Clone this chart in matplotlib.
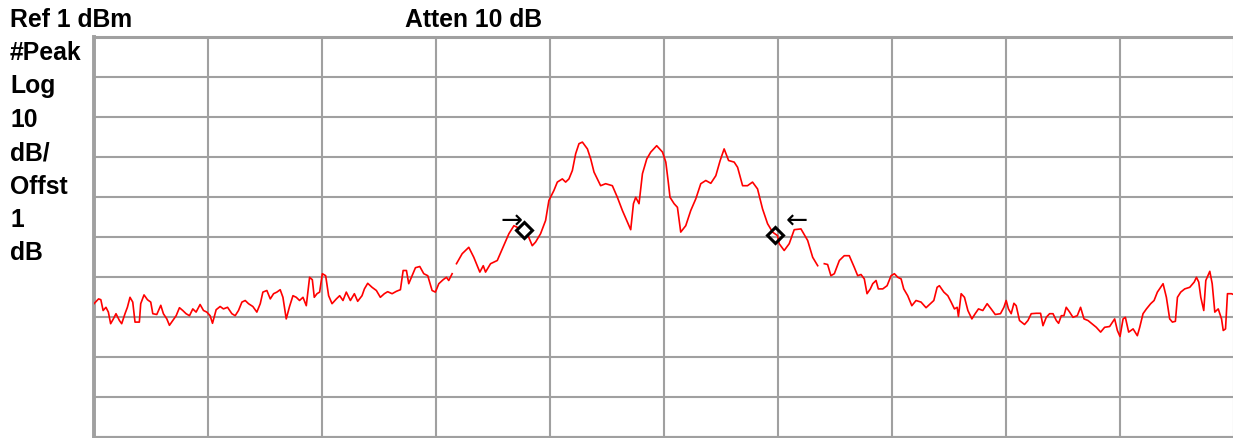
import matplotlib
matplotlib.use("Agg")
import matplotlib.pyplot as plt
import numpy as np

# trace: x in horizontal divisions (0..10), level in dBm
freq_div = [
    0.00, 0.04, 0.06, 0.08, 0.105, 0.126, 0.146, 0.170, 0.193, 0.223,
    0.243, 0.272, 0.293, 0.316, 0.340, 0.360, 0.398, 0.410, 0.439, 0.469,
    0.498, 0.516, 0.551, 0.586, 0.609, 0.639, 0.662, 0.691, 0.721, 0.750,
    0.779, 0.808, 0.838, 0.867, 0.896, 0.931, 0.961, 0.990, 1.019, 1.040,
    1.072, 1.107, 1.136, 1.172, 1.210, 1.239, 1.268, 1.298, 1.327, 1.356,
    1.394, 1.429, 1.459, 1.482, 1.517, 1.547, 1.576, 1.605, 1.634, 1.658,
    1.687, 1.716, 1.746, 1.775, 1.804, 1.834, 1.863, 1.892, 1.916, 1.933,
    1.957, 1.980, 2.004, 2.033, 2.059, 2.089, 2.127, 2.156, 2.185, 2.214,
    2.250, 2.285, 2.314, 2.352, 2.373, 2.402, 2.440, 2.478, 2.513, 2.548,
    2.577, 2.616, 2.654, 2.689, 2.713, 2.742, 2.762, 2.786, 2.821, 2.859,
    2.894, 2.929, 2.967, 2.996, 3.026, 3.064, 3.093, 3.113, 3.143, 3.160,
    3.181, 3.231, 3.289, 3.333, 3.386, 3.416, 3.436, 3.480, 3.539, 3.583,
    3.641, 3.685, 3.772, 3.802, 3.846, 3.875, 3.919, 3.963, 3.992, 4.036,
    4.066, 4.110, 4.139, 4.168, 4.198, 4.227, 4.256, 4.286, 4.330, 4.359,
    4.388, 4.446, 4.490, 4.549, 4.593, 4.637, 4.681, 4.710, 4.734, 4.754,
    4.769, 4.783, 4.813, 4.851, 4.886, 4.938, 4.989, 5.018, 5.038, 5.055,
    5.091, 5.120, 5.149, 5.193, 5.237, 5.281, 5.325, 5.369, 5.413, 5.457,
    5.495, 5.530, 5.569, 5.618, 5.648, 5.692, 5.735, 5.779, 5.823, 5.867,
    5.911, 5.955, 5.999, 6.013, 6.057, 6.101, 6.145, 6.204, 6.263, 6.307,
    6.351, 6.370, 6.409, 6.438, 6.467, 6.497, 6.541, 6.584, 6.628, 6.672,
    6.702, 6.731, 6.760, 6.784, 6.813, 6.834, 6.863, 6.883, 6.922, 6.960,
    6.995, 7.024, 7.054, 7.083, 7.106, 7.141, 7.177, 7.214, 7.258, 7.302,
    7.340, 7.370, 7.399, 7.419, 7.458, 7.493, 7.522, 7.551, 7.575, 7.586,
    7.610, 7.639, 7.669, 7.704, 7.733, 7.762, 7.800, 7.838, 7.873, 7.909,
    7.955, 7.985, 8.005, 8.025, 8.049, 8.073, 8.093, 8.122, 8.166, 8.196,
    8.225, 8.269, 8.307, 8.328, 8.357, 8.386, 8.416, 8.445, 8.465, 8.489,
    8.512, 8.532, 8.562, 8.591, 8.629, 8.658, 8.688, 8.723, 8.758, 8.796,
    8.834, 8.869, 8.913, 8.957, 8.981, 9.004, 9.031, 9.051, 9.080, 9.119,
    9.156, 9.177, 9.206, 9.236, 9.273, 9.303, 9.332, 9.382, 9.411, 9.440,
    9.464, 9.490, 9.508, 9.537, 9.572, 9.616, 9.655, 9.675, 9.695, 9.713,
    9.739, 9.757, 9.792, 9.813, 9.836, 9.866, 9.895, 9.910, 9.930, 9.947,
    9.982, 10.00,
]
level_dbm = [
    -65.8, -64.6, -64.8, -67.5, -66.7, -67.9, -70.8, -69.6, -68.3, -70.0,
    -70.8, -68.3, -66.7, -64.2, -65.4, -70.4, -70.4, -65.8, -63.6, -64.8,
    -65.4, -68.3, -68.5, -66.2, -68.3, -69.6, -71.2, -70.0, -68.8, -66.8,
    -67.5, -68.3, -68.8, -67.1, -67.9, -66.0, -67.5, -67.9, -68.8, -70.7,
    -67.3, -66.5, -67.1, -66.7, -68.3, -68.8, -67.5, -65.4, -65.0, -65.8,
    -66.5, -67.9, -65.8, -62.9, -62.5, -64.6, -63.3, -62.9, -62.3, -64.2,
    -69.6, -66.5, -63.8, -64.2, -65.0, -64.2, -66.3, -59.2, -59.8, -64.2,
    -63.3, -62.9, -58.3, -58.8, -63.8, -65.8, -64.6, -63.8, -65.0, -62.9,
    -65.0, -63.3, -65.2, -63.8, -62.1, -60.7, -61.7, -62.5, -64.2, -63.3,
    -62.8, -63.3, -62.7, -62.3, -57.5, -57.5, -60.8, -59.2, -56.8, -56.5,
    -58.3, -58.8, -62.5, -62.9, -60.8, -59.8, -59.2, -60.0, -58.3, np.nan,
    -55.8, -53.3, -51.7, -54.2, -57.9, -56.3, -57.9, -55.8, -55.0, -52.1,
    -48.3, -46.3, -47.5, -48.3, -51.3, -50.4, -48.3, -45.0, -40.0, -37.5,
    -35.4, -34.6, -35.4, -34.6, -32.5, -28.3, -25.8, -25.4, -27.1, -29.6,
    -32.9, -36.3, -35.8, -36.3, -39.2, -42.5, -45.4, -47.3, -40.8, -39.2,
    -40.0, -40.8, -33.3, -29.6, -27.9, -26.3, -27.9, -30.4, -35.0, -39.2,
    -40.8, -41.7, -47.9, -46.3, -42.5, -39.6, -35.8, -35.0, -35.7, -33.8,
    -30.0, -27.1, -30.0, -30.4, -31.7, -36.3, -36.3, -35.4, -37.1, -42.1,
    -45.8, -47.9, -48.8, -50.8, -52.5, -50.8, -47.3, -47.1, -50.0, -54.2,
    -56.3, np.nan, -55.8, -56.0, -58.8, -58.3, -55.0, -53.8, -53.8, -56.7,
    -58.8, -58.5, -59.6, -63.3, -62.1, -60.8, -60.0, -62.1, -62.1, -61.3,
    -58.8, -58.3, -59.2, -59.6, -62.1, -63.8, -66.3, -65.0, -65.4, -66.8,
    -65.8, -65.0, -61.7, -61.3, -62.9, -63.8, -65.4, -67.1, -66.7, -69.0,
    -63.3, -64.2, -67.5, -69.6, -68.3, -67.1, -67.5, -65.8, -67.1, -68.5,
    -68.3, -66.7, -65.0, -67.1, -68.3, -65.7, -66.3, -70.0, -71.0, -70.0,
    -68.3, -68.2, -68.2, -71.3, -69.2, -68.3, -68.3, -70.0, -70.7, -68.8,
    -68.8, -66.7, -67.9, -69.2, -68.8, -66.7, -69.6, -70.0, -70.8, -71.7,
    -72.9, -71.7, -71.5, -69.6, -72.5, -74.0, -69.6, -69.2, -72.9, -72.1,
    -73.8, -71.7, -68.3, -67.1, -65.8, -65.0, -62.9, -60.8, -64.2, -69.6,
    -70.4, -70.2, -64.2, -62.9, -62.1, -61.7, -60.4, -59.2, -60.4, -64.2,
    -67.5, -60.0, -57.7, -60.8, -67.9, -67.1, -69.6, -72.5, -72.1, -63.3,
    -63.3, -63.5,
]

# the two delta markers (position in div, level in dBm)
marker_div = [3.774, 5.980]
marker_dbm = [-47.3, -48.6]

ref_level = 1       # dBm, top of screen
db_per_div = 10
n_div = 10

side_labels = ["#Peak", "Log", "10", "dB/", "Offst", "1", "dB"]

W, H = 1233, 438
fig = plt.figure(figsize=(W / 100, H / 100), dpi=100)
ax = fig.add_axes([94 / W, 1.5 / H, 1139.5 / W, 400 / H])

GRID = "#a0a0a0"
ax.set_xlim(0, n_div)
ax.set_ylim(ref_level - n_div * db_per_div, ref_level)
ax.set_xticks(np.arange(0, n_div + 1))
ax.set_yticks(np.arange(ref_level - n_div * db_per_div, ref_level + 1, db_per_div))
ax.grid(True, color=GRID, lw=1.5)
ax.tick_params(length=0, labelbottom=False, labelleft=False)
for name, sp in ax.spines.items():
    sp.set_color(GRID)
    sp.set_linewidth(2.2)
ax.spines["left"].set_linewidth(2.8)
ax.spines["right"].set_visible(False)

ax.plot(freq_div, level_dbm, color="#ff0000", lw=1.2, zorder=3)

# markers: first one hides the trace, second one is see-through
ax.plot(marker_div[0], marker_dbm[0], "D", ms=8, mew=2.2, mec="black",
        mfc="white", zorder=4)
ax.plot(marker_div[1], marker_dbm[1], "D", ms=8, mew=2.2, mec="black",
        mfc="none", zorder=4)
ax.annotate("\u2192", (marker_div[0], marker_dbm[0]), xytext=(-12, 8),
            textcoords="offset pixels", ha="center", va="center",
            fontsize=19, family="DejaVu Sans", zorder=5)
ax.annotate("\u2190", (marker_div[1], marker_dbm[1]), xytext=(21, 13),
            textcoords="offset pixels", ha="center", va="center",
            fontsize=19, family="DejaVu Sans", zorder=5)

txt = dict(family="Liberation Sans", fontweight="bold", fontsize=17.8,
           color="black", va="baseline", ha="left")
fig.text(10 / W, 1 - 27 / H, f"Ref {ref_level} dBm", **txt)
fig.text(405 / W, 1 - 27 / H, "Atten 10 dB", **txt)
for i, s in enumerate(side_labels):
    fig.text(10 / W, 1 - (60 + 33.4 * i) / H, s, **txt)

fig.savefig("out.png", dpi=100)
